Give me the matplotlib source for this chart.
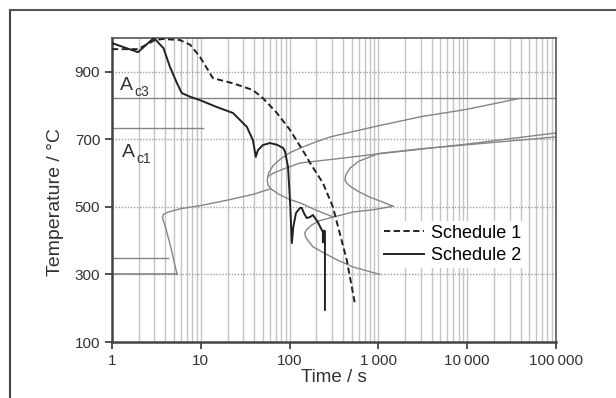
import matplotlib
matplotlib.use("Agg")
import matplotlib.pyplot as plt
from matplotlib.ticker import FixedLocator, NullFormatter

plt.rcParams['font.family'] = ['Liberation Sans', 'DejaVu Sans']

# ---- data ----
x_ticks = [1, 10, 100, 1000, 10000, 100000]
x_tick_labels = ["1", "10", "100", "1\u2009000", "10\u2009000", "100\u2009000"]
y_ticks = [100, 300, 500, 700, 900]

# Schedule 1 (dashed)
s1_t = [1.0, 1.96, 3.05, 3.75, 5.8, 7.6, 9.8, 13.7, 23, 38.6, 50, 72, 101, 156, 170, 237, 307, 440, 540]
s1_T = [967, 967, 994, 997, 994, 980, 944, 881, 866, 846, 822, 778, 728, 648, 630, 571, 500, 343, 218]

# Schedule 2 (solid)
s2_t = [1.0, 1.96, 2.96, 3.8, 4.5, 5.4, 6.1, 7.6, 9.8, 15, 23, 33, 38.6, 41.6, 44, 50, 60, 72, 85, 89, 96,
        101, 106, 110, 118, 131, 137, 146, 156, 170, 183, 208, 230, 237, 237, 244, 250, 250]
s2_T = [985, 958, 1000, 970, 914, 866, 837, 826, 816, 796, 778, 737, 698, 648, 668, 683, 689, 684, 674, 663,
        618, 520, 393, 440, 482, 497, 497, 480, 467, 470, 476, 455, 432, 426, 395, 430, 428, 195]

# transformation curves (grey)
bs_t = [5.4, 4.6, 4.0, 3.7, 3.8, 4.3, 6, 10, 20, 40, 60]
bs_T = [300, 380, 440, 467, 478, 485, 495, 504, 520, 538, 553]

c1_t = [310, 200, 131, 100, 75, 62, 57, 56, 58, 65, 80, 100, 131, 200, 285, 500, 1000, 3000, 10000, 37000]
c1_T = [470, 490, 512, 522, 538, 553, 565, 580, 600, 622, 643, 660, 674, 693, 707, 722, 740, 767, 789, 820]

c2_t = [57, 62, 70, 93, 131, 285, 1000, 10000, 100000]
c2_T = [590, 596, 603, 616, 630, 640, 657, 686, 719]

c3_t = [1460, 1100, 800, 600, 500, 440, 420, 430, 480, 600, 1000, 3000, 10000, 100000]
c3_T = [502, 515, 529, 545, 558, 570, 580, 595, 615, 635, 658, 672, 684, 707]

c4_t = [1460, 900, 520, 310, 210, 175, 155, 148, 152, 165, 183, 250, 343, 520, 1040]
c4_T = [502, 492, 485, 470, 458, 445, 432, 423, 410, 397, 382, 362, 343, 322, 300]

ac3_T = 822
ac1_T = 733
ms_T = 348

fig = plt.figure(figsize=(6.16, 3.98), dpi=100)
ax = fig.add_axes([112/616, 1-342/398, 444/616, 304/398])

ax.set_xscale('log')
ax.set_xlim(1, 100000)
ax.set_ylim(100, 1000)

# vertical grid (major + minor)
for dec in [1, 10, 100, 1000, 10000]:
    for k in range(1, 10):
        v = dec*k
        if 1 < v < 100000:
            ax.axvline(v, color='#c4c4c4', lw=1.0, zorder=0)
# horizontal dotted grid
for yv in y_ticks[1:]:
    ax.axhline(yv, color='#a0a0a0', lw=1.0, ls=(0, (1, 1.2)), zorder=0)

grey = '#858585'
ax.axhline(ac3_T, color=grey, lw=1.0, zorder=1)
ax.plot([1, 10.5], [ac1_T, ac1_T], color=grey, lw=1.0, zorder=1)
ax.plot([1, 4.3], [ms_T, ms_T], color=grey, lw=1.0, zorder=1)
ax.plot([1, 5.4], [300, 300], color=grey, lw=1.2, zorder=1)

for tt, TT in [(bs_t, bs_T), (c1_t, c1_T), (c2_t, c2_T), (c3_t, c3_T), (c4_t, c4_T)]:
    ax.plot(tt, TT, color=grey, lw=1.0, zorder=2)

l1, = ax.plot(s1_t, s1_T, color='#222222', lw=1.4, ls=(0, (3.2, 1.8)), zorder=4, label='Schedule 1')
l2, = ax.plot(s2_t, s2_T, color='#222222', lw=1.4, zorder=4, label='Schedule 2')

leg = ax.legend(handles=[l1, l2], loc='upper left', bbox_to_anchor=(0.605, 0.398), frameon=True,
                fontsize=13, handlelength=2.2, handletextpad=0.4, borderaxespad=0, borderpad=0.2,
                labelspacing=0.3, fancybox=False)
leg.get_frame().set_facecolor('white')
leg.get_frame().set_edgecolor('none')
leg.get_frame().set_alpha(1)
leg.set_zorder(5)

# Ac labels
tc = '#333333'
ax.text(1.23, 846, 'A', fontsize=14, color=tc, va='baseline', ha='left', zorder=6)
ax.text(1.80, 828, 'c3', fontsize=10, color=tc, va='baseline', ha='left', zorder=6)
ax.text(1.30, 648, 'A', fontsize=14, color=tc, va='baseline', ha='left', zorder=6)
ax.text(1.90, 630, 'c1', fontsize=10, color=tc, va='baseline', ha='left', zorder=6)

ax.xaxis.set_major_locator(FixedLocator(x_ticks))
ax.set_xticklabels(x_tick_labels)
ax.xaxis.set_minor_locator(FixedLocator([]))
ax.xaxis.set_minor_formatter(NullFormatter())
ax.set_yticks(y_ticks)
ax.tick_params(axis='both', labelsize=11, colors='#333333', length=5, width=1.2, direction='out')
for side in ['left', 'bottom']:
    ax.spines[side].set_color('#444444')
    ax.spines[side].set_linewidth(1.8)
for side in ['top', 'right']:
    ax.spines[side].set_color('#555555')
    ax.spines[side].set_linewidth(1.2)

ax.set_xlabel('Time / s', fontsize=13.5, color='#333333', labelpad=1)
ax.set_ylabel('Temperature / \u00b0C', fontsize=14, color='#333333')
ax.yaxis.set_label_coords(-0.108, 0.46)

# outer frame
fig.add_artist(plt.Line2D([10/616, 10/616], [0, 1-10/398], color='#444444', lw=1.5, transform=fig.transFigure))
fig.add_artist(plt.Line2D([10/616, 1], [1-10/398, 1-10/398], color='#555555', lw=1.5, transform=fig.transFigure))

fig.savefig('out.png', dpi=100)
